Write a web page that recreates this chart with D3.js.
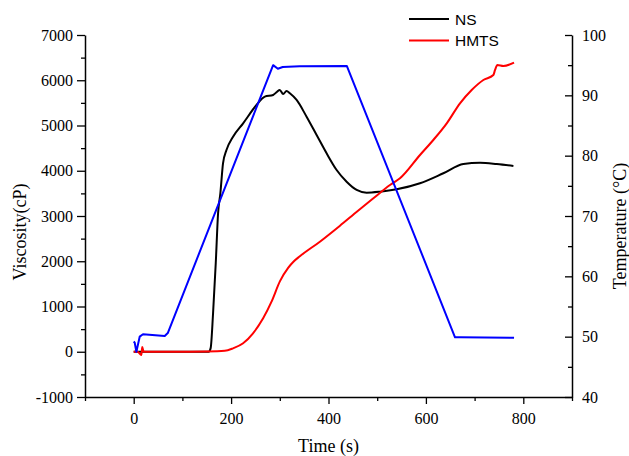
<!DOCTYPE html>
<html>
<head>
<meta charset="utf-8">
<script src="https://cdn.jsdelivr.net/npm/d3@7"></script>
<style>
  html, body { margin: 0; padding: 0; background: #fff; }
  svg { display: block; }
</style>
</head>
<body>
<svg id="chart" width="629" height="456"></svg>
<script>
// ---- data ----
const timeNS = [0, 60, 120, 154, 158, 163, 168.5, 173.3, 178, 183.4, 190.5, 204, 224.7, 252.2, 269.3, 286.3, 294.5, 300, 306.9, 313.9, 320.7, 334.5, 355, 375.6, 396.1, 416.7, 437.2, 457.8, 478.3, 505.7, 540, 587.9, 635.8, 676.9, 711.2, 745.5, 779.7];
const viscNS = [0, 0, 0, 0, 80, 856, 1961, 3066, 3508, 4165, 4459, 4753, 5049, 5453, 5637, 5674, 5747, 5785, 5696, 5763, 5712, 5564, 5195, 4790, 4386, 4017, 3758, 3575, 3515, 3537, 3590, 3723, 3944, 4149, 4178, 4149, 4105];

const timeHMTS = [0, 8, 15.8, 17.5, 20.5, 40, 100, 150, 187, 204, 224.7, 245, 265.8, 283, 300.4, 317.5, 328, 341.2, 382.3, 423, 460, 492.2, 526.2, 546.8, 587.9, 615.2, 642.8, 670, 694, 718, 738.5, 742, 746.8, 759, 781];
const viscHMTS = [0, 0, -72, 105, 0, 0, 0, 5, 20, 76, 187, 408, 739, 1106, 1560, 1860, 1990, 2110, 2432, 2780, 3110, 3391, 3685, 3833, 4348, 4680, 5048, 5490, 5785, 6006, 6116, 6227, 6337, 6315, 6388];

const timeTemp = [0, 2.1, 5.5, 12.3, 19.1, 63.7, 70, 286.3, 296, 306, 341, 437.8, 659.8, 670, 781];
const temperature = [49.2, 49.0, 47.5, 50.0, 50.4, 50.1, 50.6, 95.0, 94.4, 94.7, 94.8, 94.86, 49.9, 49.9, 49.8];

const xTicks = [0, 200, 400, 600, 800];
const yLeftTicks = [-1000, 0, 1000, 2000, 3000, 4000, 5000, 6000, 7000];
const yRightTicks = [40, 50, 60, 70, 80, 90, 100];
const seriesNames = ["NS", "HMTS"];

// ---- layout ----
const L = 85, R = 572, T = 35, B = 397;
const svg = d3.select("#chart");
const serif = "'Liberation Serif', 'Times New Roman', serif";
const sans = "'Liberation Sans', Arial, sans-serif";

const x = d3.scaleLinear().domain([-100, 900]).range([L, R]);
const yL = d3.scaleLinear().domain([-1000, 7000]).range([B, T]);
const yR = d3.scaleLinear().domain([40, 100]).range([B, T]);

function styleAxis(g) {
  g.selectAll("path.domain").attr("stroke", "#000").attr("stroke-width", 1.5);
  g.selectAll(".tick line").attr("stroke", "#000").attr("stroke-width", 1.3);
  g.selectAll(".tick text").attr("font-family", serif).attr("font-size", 16).attr("fill", "#000");
}

// minor ticks
const xMinor = d3.range(-100, 901, 100).filter(v => !xTicks.includes(v));
const yLMinor = d3.range(-1000, 7001, 500).filter(v => !yLeftTicks.includes(v));
const yRMinor = d3.range(40, 101, 5).filter(v => !yRightTicks.includes(v));

// bottom axis
const gx = svg.append("g").attr("transform", `translate(0,${B})`)
  .call(d3.axisBottom(x).tickValues(xTicks).tickSize(7).tickSizeOuter(0).tickPadding(9).tickFormat(d => String(d)));
styleAxis(gx);
svg.append("g").attr("transform", `translate(0,${B})`)
  .call(d3.axisBottom(x).tickValues(xMinor).tickSize(4).tickSizeOuter(0).tickFormat(""))
  .call(g => { g.select("path.domain").remove(); g.selectAll("line").attr("stroke", "#000").attr("stroke-width", 1.3); });

// left axis
const gl = svg.append("g").attr("transform", `translate(${L},0)`)
  .call(d3.axisLeft(yL).tickValues(yLeftTicks).tickSize(8).tickSizeOuter(0).tickPadding(4).tickFormat(d => String(d)));
styleAxis(gl);
svg.append("g").attr("transform", `translate(${L},0)`)
  .call(d3.axisLeft(yL).tickValues(yLMinor).tickSize(4).tickSizeOuter(0).tickFormat(""))
  .call(g => { g.select("path.domain").remove(); g.selectAll("line").attr("stroke", "#000").attr("stroke-width", 1.3); });

// right axis (ticks inward)
const gr = svg.append("g").attr("transform", `translate(${R},0)`)
  .call(d3.axisRight(yR).tickValues(yRightTicks).tickSize(-7).tickSizeOuter(0).tickPadding(10).tickFormat(d => String(d)));
styleAxis(gr);
svg.append("g").attr("transform", `translate(${R},0)`)
  .call(d3.axisRight(yR).tickValues(yRMinor).tickSize(-4).tickSizeOuter(0).tickFormat(""))
  .call(g => { g.select("path.domain").remove(); g.selectAll("line").attr("stroke", "#000").attr("stroke-width", 1.3); });

// axis titles
svg.append("text").attr("x", (L + R) / 2).attr("y", 452).attr("text-anchor", "middle")
  .attr("font-family", serif).attr("font-size", 18).text("Time (s)");
svg.append("text").attr("transform", "translate(26,232) rotate(-90)").attr("text-anchor", "middle")
  .attr("font-family", serif).attr("font-size", 18).text("Viscosity(cP)");
svg.append("text").attr("transform", "translate(626,226) rotate(-90)").attr("text-anchor", "middle")
  .attr("font-family", serif).attr("font-size", 18).text("Temperature (°C)");

// lines
const lineL = d3.line().x(d => x(d[0])).y(d => yL(d[1])).curve(d3.curveMonotoneX);
const lineR = d3.line().x(d => x(d[0])).y(d => yR(d[1])).curve(d3.curveLinear);

svg.append("path").datum(d3.zip(timeNS, viscNS)).attr("d", lineL)
  .attr("fill", "none").attr("stroke", "#000").attr("stroke-width", 2).attr("stroke-linejoin", "round");
svg.append("path").datum(d3.zip(timeHMTS, viscHMTS)).attr("d", lineL)
  .attr("fill", "none").attr("stroke", "#ff0000").attr("stroke-width", 2).attr("stroke-linejoin", "round");
svg.append("path").datum(d3.zip(timeTemp, temperature)).attr("d", lineR)
  .attr("fill", "none").attr("stroke", "#0000ff").attr("stroke-width", 2).attr("stroke-linejoin", "round");

// legend
const legColors = ["#000", "#ff0000"];
const leg = svg.append("g");
seriesNames.forEach((name, i) => {
  const yy = 19 + i * 21.5;
  leg.append("line").attr("x1", 409).attr("x2", 449).attr("y1", yy).attr("y2", yy)
    .attr("stroke", legColors[i]).attr("stroke-width", 2);
  leg.append("text").attr("x", 455).attr("y", yy + 5.5).attr("font-family", sans)
    .attr("font-size", 15.5).attr("fill", "#000").text(name);
});
</script>
</body>
</html>
